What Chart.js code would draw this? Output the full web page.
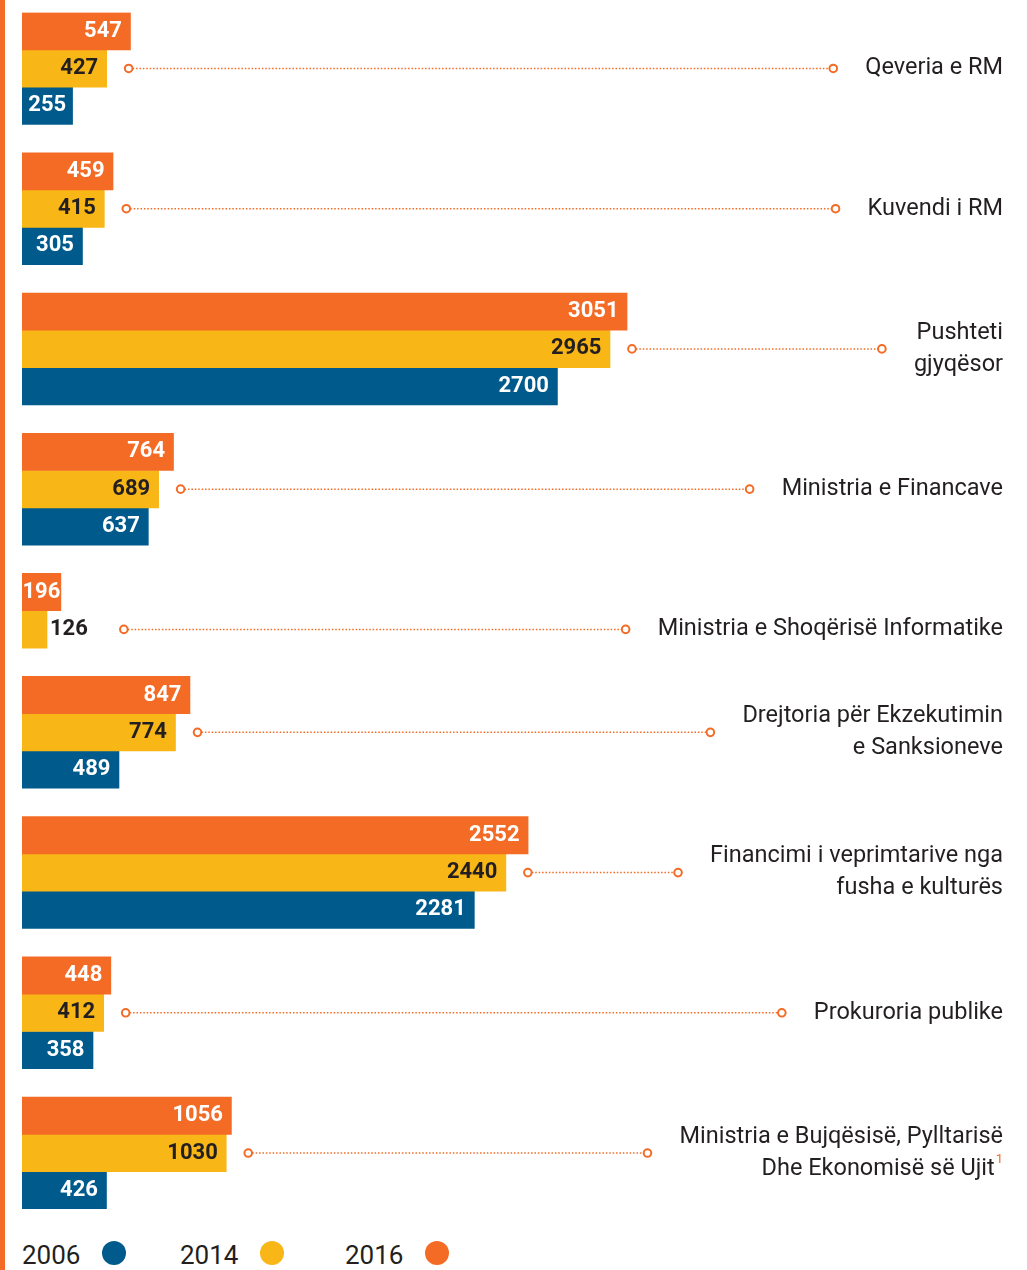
<!DOCTYPE html>
<html lang="sq">
<head>
  <meta charset="UTF-8" />
  <title>Buxhet sipas institucioneve</title>
  <script src="https://cdn.jsdelivr.net/npm/chart.js"></script>
  <style>
    body { margin: 0; background: #fff; width: 1027px; height: 1270px; overflow: hidden; position: relative; font-family: Roboto, sans-serif; }
    .stripe { position: absolute; left: 0; top: 0; width: 5px; height: 1270px; background: #F36B25; }
    #chart { position: absolute; left: 0; top: 0; }
    .item { position: absolute; top: 1240px; display: flex; align-items: center; font-size: 26px; line-height: 30px; color: #231F20; }
    .item i { display: inline-block; width: 24px; height: 24px; border-radius: 50%; margin-left: 22px; margin-top: -4px; }
  </style>
</head>
<body>
  <div class="stripe"></div>
  <canvas id="chart" width="1027" height="1222"></canvas>
  <div class="item" style="left:22px">2006<i style="background:#005B8C"></i></div>
  <div class="item" style="left:180px">2014<i style="background:#F8B617"></i></div>
  <div class="item" style="left:345px">2016<i style="background:#F36B25"></i></div>

  <script>
    // data
    const categories = [
      ['Qeveria e RM'],
      ['Kuvendi i RM'],
      ['Pushteti', 'gjyqësor'],
      ['Ministria e Financave'],
      ['Ministria e Shoqërisë Informatike'],
      ['Drejtoria për Ekzekutimin', 'e Sanksioneve'],
      ['Financimi i veprimtarive nga', 'fusha e kulturës'],
      ['Prokuroria publike'],
      ['Ministria e Bujqësisë, Pylltarisë', 'Dhe Ekonomisë së Ujit']
    ];
    const footnotes = ['', '', '', '', '', '', '', '', '1'];
    const values2016 = [547, 459, 3051, 764, 196, 847, 2552, 448, 1056];
    const values2014 = [427, 415, 2965, 689, 126, 774, 2440, 412, 1030];
    const values2006 = [255, 305, 2700, 637, null, 489, 2281, 358, 426];

    const ORANGE = '#F36B25';
    const YELLOW = '#F8B617';
    const BLUE = '#005B8C';
    const DARK = '#231F20';
    const GAP = 0.76; // space between groups, in bar heights

    // one row per bar, top to bottom: 2016, 2014, 2006
    const seriesValues = [values2016, values2014, values2006];
    const rows = [[], [], []];
    let cursor = 0;
    categories.forEach((c, i) => {
      seriesValues.forEach((vals, s) => {
        if (vals[i] == null) return;
        rows[s].push({ x: vals[i], y: cursor + 0.5, cat: i });
        cursor += 1;
      });
      if (i < categories.length - 1) cursor += GAP;
    });
    const totalRows = cursor;

    const annotate = {
      id: 'annotate',
      afterDatasetsDraw(chart) {
        const ctx = chart.ctx;
        ctx.save();
        ctx.textBaseline = 'middle';

        // value labels
        ctx.font = 'bold 22px Roboto';
        const labelEnds = [];
        const outside = [];
        chart.data.datasets.forEach((ds, d) => {
          const meta = chart.getDatasetMeta(d);
          meta.data.forEach((bar, k) => {
            const raw = ds.data[k];
            const txt = String(raw.x);
            const tw = ctx.measureText(txt).width;
            const w = bar.x - bar.base;
            let end;
            if (tw <= w + 2) {
              const pad = Math.max(0, Math.min(8.5, (w - tw) / 2));
              ctx.textAlign = 'right';
              ctx.fillStyle = ds.labelColor;
              ctx.fillText(txt, bar.x - pad, bar.y);
              end = bar.x;
            } else {
              ctx.textAlign = 'left';
              ctx.fillStyle = DARK;
              ctx.fillText(txt, bar.x + 3, bar.y);
              end = bar.x + 3 + tw;
              if (d === 1) outside[raw.cat] = true;
            }
            if (d === 1) labelEnds[raw.cat] = end;
          });
        });

        // category names and dotted leaders
        const meta14 = chart.getDatasetMeta(1);
        const right = chart.width - 24;
        const lh = 32;
        categories.forEach((lines, i) => {
          const bar = meta14.data[i];
          const y = bar.y;
          const note = footnotes[i];
          ctx.font = '13px Roboto';
          const nw = note ? ctx.measureText(note).width + 1 : 0;
          ctx.font = '23.5px Roboto';
          const top = y - (lines.length - 1) * lh / 2;
          let minLeft = right;
          lines.forEach((line, j) => {
            const last = j === lines.length - 1;
            const r = last ? right - nw : right;
            ctx.textAlign = 'right';
            ctx.fillStyle = DARK;
            ctx.fillText(line, r, top + j * lh);
            minLeft = Math.min(minLeft, r - ctx.measureText(line).width);
            if (last && note) {
              ctx.font = '13px Roboto';
              ctx.fillStyle = ORANGE;
              ctx.textAlign = 'left';
              ctx.fillText(note, r + 1, top + j * lh - 9);
              ctx.font = '23.5px Roboto';
            }
          });

          const x0 = labelEnds[i] + (outside[i] ? 36 : 22);
          const x1 = minLeft - 32;
          ctx.strokeStyle = ORANGE;
          ctx.lineWidth = 1.5;
          ctx.setLineDash([1.5, 1.9]);
          ctx.beginPath();
          ctx.moveTo(x0 + 4, y);
          ctx.lineTo(x1 - 4, y);
          ctx.stroke();
          ctx.setLineDash([]);
          ctx.lineWidth = 2;
          [x0, x1].forEach(cx => {
            ctx.beginPath();
            ctx.arc(cx, y, 3.8, 0, Math.PI * 2);
            ctx.fillStyle = '#fff';
            ctx.fill();
            ctx.stroke();
          });
        });
        ctx.restore();
      }
    };

    const barOpts = { grouped: false, barPercentage: 1, categoryPercentage: 1, borderWidth: 0 };

    new Chart(document.getElementById('chart'), {
      type: 'bar',
      data: {
        datasets: [
          { label: '2016', data: rows[0], backgroundColor: ORANGE, labelColor: '#fff', ...barOpts },
          { label: '2014', data: rows[1], backgroundColor: YELLOW, labelColor: DARK, ...barOpts },
          { label: '2006', data: rows[2], backgroundColor: BLUE, labelColor: '#fff', ...barOpts }
        ]
      },
      options: {
        indexAxis: 'y',
        responsive: false,
        animation: false,
        layout: { padding: { left: 22, right: 22, top: 12.5, bottom: 13 } },
        plugins: { legend: { display: false }, tooltip: { enabled: false } },
        scales: {
          x: { type: 'linear', min: 0, max: 4957, display: false },
          y: { type: 'linear', reverse: true, min: 0, max: totalRows, offset: false, display: false }
        }
      },
      plugins: [annotate]
    });
  </script>
</body>
</html>
